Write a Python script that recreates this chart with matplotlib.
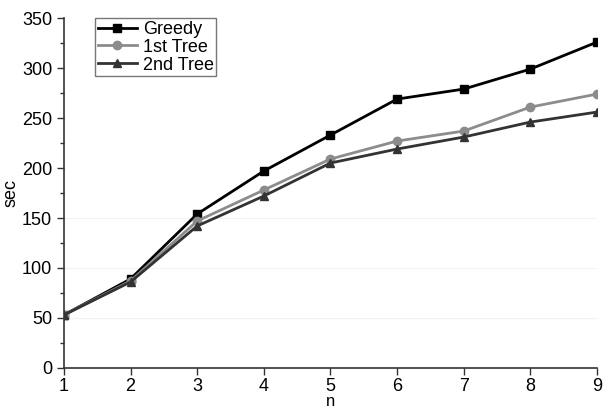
import matplotlib
matplotlib.use('Agg')
import matplotlib.pyplot as plt
from matplotlib.ticker import MultipleLocator

plt.rcParams['font.family'] = ['Liberation Sans', 'DejaVu Sans']

n = [1, 2, 3, 4, 5, 6, 7, 8, 9]
greedy = [53, 89, 154, 197, 233, 269, 279, 299, 326]
tree1 = [53, 87, 147, 178, 209, 227, 237, 261, 274]
tree2 = [53, 86, 142, 172, 205, 219, 231, 246, 256]

fig = plt.figure(figsize=(6.03, 4.12), dpi=100)
ax = fig.add_axes([0.106, 0.107, 0.884, 0.849])

# faint horizontal gridlines like the scan
for y in [50, 100, 150]:
    ax.axhline(y, color='#f2f2f2', lw=0.8, zorder=0)

ax.plot(n, greedy, color='black', marker='s', ms=6, lw=2, label='Greedy')
ax.plot(n, tree1, color='#8c8c8c', marker='o', ms=6, lw=2, label='1st Tree')
ax.plot(n, tree2, color='#333333', marker='^', ms=6, lw=2, label='2nd Tree')

ax.set_xlim(1, 9)
ax.set_ylim(0, 350)
ax.xaxis.set_major_locator(MultipleLocator(1))
ax.yaxis.set_major_locator(MultipleLocator(50))
ax.yaxis.set_minor_locator(MultipleLocator(25))
ax.spines['top'].set_visible(False)
ax.spines['right'].set_visible(False)
for s in ['left', 'bottom']:
    ax.spines[s].set_linewidth(1.2)
    ax.spines[s].set_color('#333333')
ax.tick_params(which='major', direction='out', length=5, width=1, labelsize=13, colors='#333333', labelcolor='black')
ax.tick_params(axis='x', which='major', pad=2)
ax.tick_params(which='minor', direction='out', length=3, width=1, colors='#333333')
ax.set_xlabel('n', fontsize=12, va='center')
ax.xaxis.set_label_coords(0.5, -0.095)
ax.set_ylabel('sec', fontsize=13, labelpad=2)

leg = ax.legend(loc='upper left', bbox_to_anchor=(0.058, 1.0), fontsize=13, frameon=True,
                fancybox=False, edgecolor='#555555', handlelength=2.2, handletextpad=0.3,
                borderpad=0.15, labelspacing=0.05, borderaxespad=0.0)
leg.get_frame().set_linewidth(1)

fig.savefig('out.png', dpi=100)
